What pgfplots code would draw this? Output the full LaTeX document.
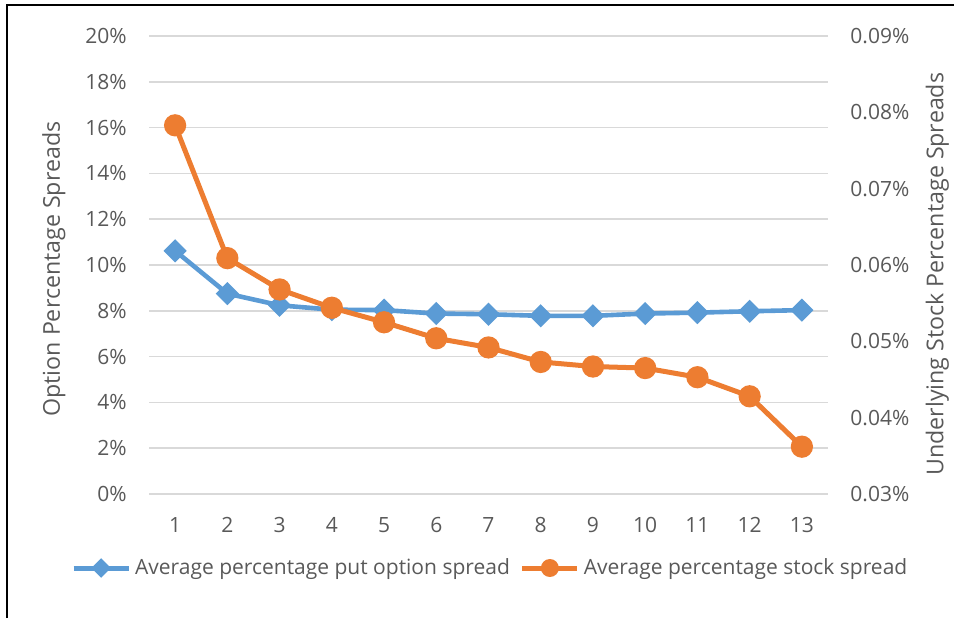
\documentclass[border=0pt]{standalone}
\usepackage{pgfplots}
\pgfplotsset{compat=1.18}
\usepackage{pgfplotstable}
\usepackage{fontspec}
\setmainfont{Open Sans}

\definecolor{optblue}{HTML}{5B9BD5}
\definecolor{stkorange}{HTML}{ED7D31}
\definecolor{gridgray}{HTML}{D9D9D9}
\definecolor{txtgray}{HTML}{595959}

% average percentage put option spread (left axis, in %)
\pgfplotstableread{
x  put
1  10.62
2  8.75
3  8.24
4  8.05
5  8.03
6  7.88
7  7.85
8  7.78
9  7.78
10 7.88
11 7.92
12 7.98
13 8.03
}\putdata

% average percentage stock spread (right axis, in %)
\pgfplotstableread{
x  stock
1  0.0783
2  0.0609
3  0.0568
4  0.0544
5  0.0525
6  0.0504
7  0.0492
8  0.0473
9  0.0467
10 0.0465
11 0.0453
12 0.0428
13 0.0362
}\stockdata

\newcommand{\chartfont}{\fontsize{10.5}{12.6}\selectfont}
\newcommand{\titlefont}{\fontsize{11.6}{13.9}\selectfont}

\pgfplotsset{
  spreadbase/.style={
    at={(74.5pt,62pt)}, anchor=south west,
    scale only axis, width=339.5pt, height=229pt,
    xmin=0.5, xmax=13.5,
    axis line style={draw=none},
    major tick length=0pt,
    scaled y ticks=false,
    tick label style={font=\chartfont, text=txtgray, inner sep=0pt},
    label style={font=\titlefont, text=txtgray},
    clip=false,
  },
  putstyle/.style={optblue, line width=2.3pt, mark=square*,
    mark size=2.95pt, mark options={rotate=45, draw=none, fill=optblue, solid}},
  stockstyle/.style={stkorange, line width=2.5pt, mark=*,
    mark size=4.3pt, mark options={draw=none, fill=stkorange, solid}},
}

\begin{document}
\begin{tikzpicture}
\path[use as bounding box] (0pt,0pt) rectangle (477pt,309pt);
\draw[black, line width=1pt] (3.5pt,0pt) -- (3.5pt,306.5pt) -- (477pt,306.5pt);

\begin{axis}[
  spreadbase,
  ymin=0, ymax=20,
  xtick={1,2,3,4,5,6,7,8,9,10,11,12,13},
  xticklabels={1,2,3,4,5,6,7,8,9,10,11,12,13},
  xticklabel style={yshift=-11.5pt},
  ytick={0,2,4,6,8,10,12,14,16,18,20},
  yticklabels={0\%,2\%,4\%,6\%,8\%,10\%,12\%,14\%,16\%,18\%,20\%},
  yticklabel style={xshift=-11pt},
  ymajorgrids, grid style={gridgray, line width=0.75pt},
  ylabel={Option Percentage Spreads},
  ylabel style={at={(axis description cs:-0.140,0.491)}, anchor=center},
]
\addplot[putstyle] table[x=x, y=put] {\putdata};
\end{axis}

\begin{axis}[
  spreadbase,
  axis x line=none,
  axis y line*=right,
  ymin=0.03, ymax=0.09,
  ytick={0.03,0.04,0.05,0.06,0.07,0.08,0.09},
  yticklabels={0.03\%,0.04\%,0.05\%,0.06\%,0.07\%,0.08\%,0.09\%},
  yticklabel style={anchor=west, xshift=11pt},
  ylabel={Underlying Stock Percentage Spreads},
  ylabel style={at={(axis description cs:1.161,0.480)}, anchor=center, rotate=0},
  legend style={at={(0.504,-0.1616)}, anchor=center, draw=none, fill=none,
    font=\chartfont, text=txtgray, legend columns=2,
    nodes={inner xsep=2pt, inner ysep=0pt},
    /tikz/every even column/.append style={column sep=3pt}},
  legend image code/.code={%
    \draw[mark repeat=2, mark phase=2, #1, line width=2.5pt,
          every mark/.append style={scale=0.75}]
      plot coordinates {(0pt,0pt) (13.75pt,0pt) (27.5pt,0pt)};},
]
\addlegendimage{putstyle}
\addlegendentry{Average percentage put option spread}
\addplot[stockstyle] table[x=x, y=stock] {\stockdata};
\addlegendentry{Average percentage stock spread}
\end{axis}
\end{tikzpicture}
\end{document}
